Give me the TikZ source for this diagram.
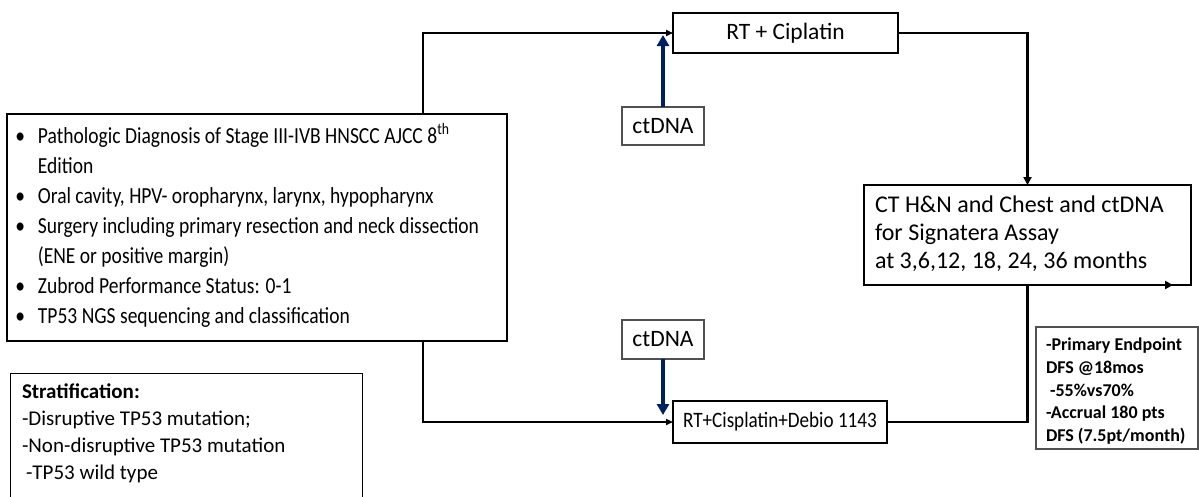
\documentclass[tikz,border=0pt]{standalone}
\usepackage{fontspec}
\usepackage{graphicx}
\setmainfont{Carlito}
\usetikzlibrary{arrows.meta}
\definecolor{navy}{RGB}{0,32,96}
\definecolor{edgegray}{RGB}{80,80,80}
\begin{document}
\begin{tikzpicture}[x=1pt,y=-1pt,
  box/.style={draw, rectangle, inner sep=0pt, outer sep=0pt},
  conn/.style={draw, line width=1.6pt, -{Triangle[length=7pt,width=6pt]}},
  connb/.style={draw, line width=2.6pt, -{Triangle[length=8pt,width=8pt]}},
  bluearr/.style={draw=navy, line width=3.8pt, -{Triangle[length=11pt,width=12pt]}},
  bigfont/.style={font=\fontsize{23.5}{28}\selectfont}]
\useasboundingbox (0,0) rectangle (1199,496);

% main eligibility box
\node[box, line width=2pt, minimum width=500pt, minimum height=227pt, anchor=north west] (main) at (7,114)
 {\parbox{490pt}{\fontsize{23}{30}\selectfont\scalebox{0.85}[1]{%
  \begin{tabular}{@{\hspace{4pt}}l@{\hspace{15pt}}l@{}}
  • & Pathologic Diagnosis of Stage III-IVB HNSCC AJCC 8\textsuperscript{th}\\
    & Edition\\
  • & Oral cavity, HPV- oropharynx, larynx, hypopharynx\\
  • & Surgery including primary resection and neck dissection\\
    & (ENE or positive margin)\\
  • & Zubrod Performance Status: 0-1\\
  • & TP53 NGS sequencing and classification
  \end{tabular}}}};

% stratification box
\node[box, line width=1pt, anchor=north west, inner xsep=12pt] (strat) at (10,373)
 {\parbox[c][132pt][t]{328pt}{\fontsize{21}{27}\selectfont\vspace*{7pt}\strut\textbf{Stratification:}\\
  -Disruptive TP53 mutation;\\
  -Non-disruptive TP53 mutation\\
  \hspace*{4pt}-TP53 wild type}};

% arms
\node[box, line width=1.6pt, minimum width=225pt, minimum height=40pt, bigfont] (rt) at (785.5,33) {RT + Ciplatin};
\node[box, line width=2pt, minimum width=214pt, minimum height=42pt, font=\fontsize{22}{26}\selectfont] (debio) at (780,422)
 {\scalebox{0.87}[1]{RT+Cisplatin+Debio 1143}};

% ctDNA boxes
\node[box, draw=edgegray, line width=1.2pt, minimum width=82pt, minimum height=38pt, bigfont] (dna1) at (663,126) {ctDNA};
\node[box, draw=edgegray, line width=1.2pt, minimum width=82pt, minimum height=39pt, bigfont] (dna2) at (663,339.5) {ctDNA};

% follow-up box
\node[box, line width=2.8pt, minimum width=327pt, minimum height=100pt, inner xsep=11pt,
      font=\fontsize{24}{28}\selectfont] (ct) at (1027.5,235)
 {\makebox[305pt][l]{\begin{tabular}{@{}l@{}}CT H\&N and Chest and ctDNA\\ for Signatera Assay\\ at 3,6,12, 18, 24, 36 months\end{tabular}}};

% endpoint box
\node[box, draw=edgegray, line width=1.2pt, anchor=north west, inner xsep=10pt] (endp) at (1036,327)
 {\parbox[c][122pt][t]{142pt}{\bfseries\fontsize{18}{22.7}\selectfont\vspace*{8pt}\strut -Primary Endpoint\\
  DFS @18mos\\
  \hspace*{4pt}-55\%vs70\%\\
  -Accrual 180 pts\\
  DFS (7.5pt/month)}};

% connectors
\coordinate (sx) at (423,0);
\draw[conn] (main.north -| sx) |- (rt.west);
\draw[conn] (main.south -| sx) |- (debio.west);
\coordinate (t1) at (dna1.north |- rt.west);
\coordinate (t2) at (dna2.south |- debio.west);
\draw[bluearr] (dna1.north) -- ([yshift=-2pt]t1);
\draw[bluearr] (dna2.south) -- ([yshift=7pt]t2);
\draw[connb] (rt.east) -| (ct.north);
\draw[connb] (debio.east) -| (ct.south) -- ([xshift=-18pt]ct.south east);
\end{tikzpicture}
\end{document}
